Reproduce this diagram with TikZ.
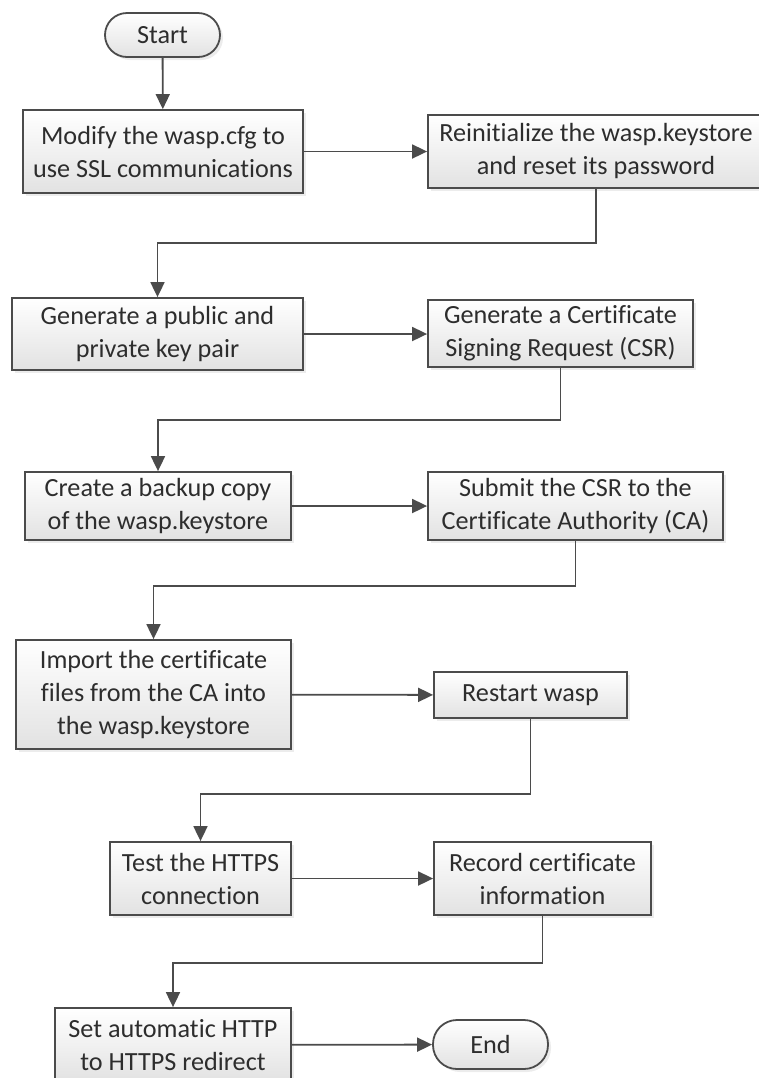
\documentclass[tikz,border=0pt]{standalone}
\usepackage{fontspec}
\setmainfont[Ligatures=NoCommon]{Carlito}
\usetikzlibrary{positioning}
\usetikzlibrary{arrows.meta}
\usetikzlibrary{shadows}

\begin{document}
\begin{tikzpicture}[x=0.5pt, y=-0.5pt]
    % Farben
    \definecolor{Rand}{RGB}{75,75,75}
    \definecolor{Schrift}{RGB}{45,45,45}
    \definecolor{Verlauf}{RGB}{226,226,226}

    \tikzset{
        schritt/.style={rectangle, draw=Rand, line width=0.9pt, top color=white, bottom color=Verlauf,
            drop shadow={shadow xshift=1.5pt, shadow yshift=-1.5pt, opacity=0.15},
            text=Schrift, align=center, inner sep=0pt,
            font=\fontsize{13.1}{16.5}\selectfont},
        pfeil/.style={draw=Rand, line width=0.9pt, -{Triangle[length=7.5pt, width=7pt]}}
    }

    \useasboundingbox (0,0) rectangle (759,1078);
    \clip (0,0) rectangle (759,1078);

    % Start
    \node[schritt, rounded corners=11pt, minimum width=57.5pt, minimum height=22pt] (start) at (162.5,35) {Start};

    % linke Spalte
    \node[schritt, minimum width=140pt, minimum height=41.5pt] (modify) at (163,151.5) {Modify the wasp.cfg to\\use SSL communications};
    \node[schritt, minimum width=145.5pt, minimum height=36pt] (keypair) at (157.5,334) {Generate a public and\\private key pair};
    \node[schritt, minimum width=133pt, minimum height=34pt] (backup) at (158,506) {Create a backup copy\\of the wasp.keystore};
    \node[schritt, minimum width=137.5pt, minimum height=54.5pt] (import) at (153.5,694.5) {Import the certificate\\files from the CA into\\the wasp.keystore};
    \node[schritt, minimum width=90.5pt, minimum height=36.5pt] (test) at (200.5,878.5) {Test the HTTPS\\connection};
    \node[schritt, minimum width=118pt, minimum height=37pt] (redirect) at (173,1045) {Set automatic HTTP\\to HTTPS redirect};

    % rechte Spalte
    \node[schritt, minimum width=168pt, minimum height=36.5pt] (reinit) at (596,151.5) {Reinitialize the wasp.keystore\\and reset its password};
    \node[schritt, minimum width=132.5pt, minimum height=33.5pt] (csr) at (560.5,333.5) {Generate a Certificate\\Signing Request (CSR)};
    \node[schritt, minimum width=147.5pt, minimum height=34pt] (submit) at (575.5,506) {Submit the CSR to the\\Certificate Authority (CA)};
    \node[schritt, minimum width=96.5pt, minimum height=23pt] (restart) at (530.5,695) {Restart wasp};
    \node[schritt, minimum width=108.5pt, minimum height=36.5pt] (record) at (542.5,878.5) {Record certificate\\information};
    \node[schritt, rounded corners=12pt, minimum width=57.5pt, minimum height=24.5pt] (end) at (490.5,1044.5) {End};

    % Knickpunkte
    \coordinate (knick1) at (0,243);
    \coordinate (knick2) at (0,420);
    \coordinate (knick3) at (0,586);
    \coordinate (knick4) at (0,794);
    \coordinate (knick5) at (0,963);

    % Verbindungen
    \draw[pfeil] (start) -- (modify);
    \draw[pfeil] (modify) -- (reinit);
    \draw[pfeil] (reinit.south) -- (reinit.south |- knick1) -| (keypair.north);
    \draw[pfeil] (keypair) -- (csr.west |- keypair);
    \draw[pfeil] (csr.south) -- (csr.south |- knick2) -| (backup.north);
    \draw[pfeil] (backup) -- (submit);
    \draw[pfeil] (submit.south) -- (submit.south |- knick3) -| (import.north);
    \draw[pfeil] (import) -- (restart);
    \draw[pfeil] (restart.south) -- (restart.south |- knick4) -| (test.north);
    \draw[pfeil] (test) -- (record);
    \draw[pfeil] (record.south) -- (record.south |- knick5) -| (redirect.north);
    \draw[pfeil] (redirect) -- (end);

\end{tikzpicture}
\end{document}
